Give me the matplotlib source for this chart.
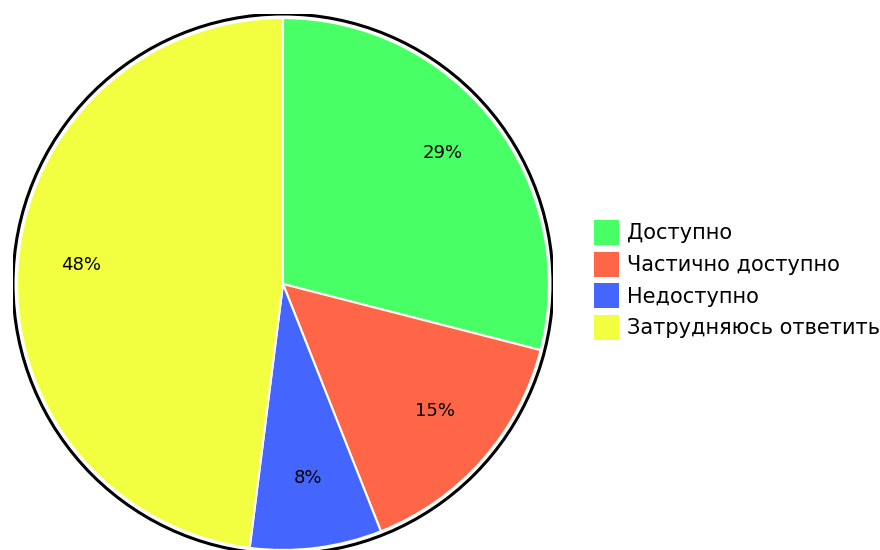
import matplotlib.pyplot as plt
from matplotlib.patches import Patch, Circle

## data
labels = ['Доступно', 'Частично доступно', 'Недоступно', 'Затрудняюсь ответить']
values = [29, 15, 8, 48]
colors = ['#48ff66', '#ff6648', '#4466ff', '#f2ff40']

plt.rcParams['font.family'] = ['DejaVu Sans']

fig = plt.figure(figsize=(8.8, 5.5), dpi=100)
# pie centre around (283, 284) px, radius ~270 px
ax = fig.add_axes([(283 - 270) / 880, (550 - 284 - 270) / 550, 540 / 880, 540 / 550])

wedges, texts, autotexts = ax.pie(values, colors=colors, startangle=90, counterclock=False,
                                  radius=0.985, autopct='%d%%', pctdistance=0.76,
                                  wedgeprops=dict(edgecolor='white', linewidth=1.5),
                                  textprops=dict(fontsize=13, color='black'))
# labels sit a little higher in the original
for t in autotexts:
    x, y = t.get_position()
    t.set_position((x, y + 0.025))

# black outline round the pie
ax.add_patch(Circle((0, 0), 1.0, fill=False, edgecolor='black', linewidth=2.2))
ax.set_xlim(-1, 1)
ax.set_ylim(-1, 1)
ax.set_aspect('equal')
ax.axis('off')

handles = [Patch(facecolor=c, edgecolor='none') for c in colors]
fig.legend(handles, labels, loc='center left', bbox_to_anchor=(594 / 880, 1 - 280 / 550),
           frameon=False, fontsize=15, handlelength=1.2, handleheight=1.45,
           labelspacing=0.33, handletextpad=0.38, borderpad=0, borderaxespad=0)

fig.savefig('out.png', dpi=100)
